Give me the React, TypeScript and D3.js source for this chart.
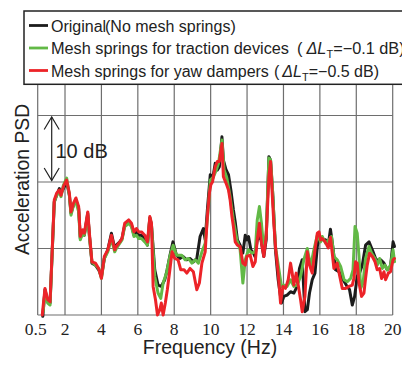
import React from "react";
import * as d3 from "d3";

// Frequency (Hz), relative acceleration PSD (dB)
const original: [number, number][] = [
  [0.78,-0.2],[0.90,3.8],[1.05,2.0],[1.18,1.8],[1.41,17.0],[1.54,18.0],[1.69,19.0],[1.78,18.3],[1.91,19.0],[2.09,20.0],[2.24,18.0],[2.33,15.3],[2.46,16.5],[2.60,17.3],[2.75,16.0],[2.84,11.5],[2.97,12.5],[3.06,12.0],[3.25,15.3],[3.34,12.0],[3.48,7.8],[3.67,7.5],[3.85,6.8],[4.00,5.8],[4.16,8.5],[4.35,9.8],[4.55,12.3],[4.73,10.0],[4.82,10.5],[5.01,11.0],[5.13,11.5],[5.28,13.5],[5.37,13.8],[5.50,14.0],[5.65,13.5],[5.79,12.0],[5.92,12.5],[6.05,12.0],[6.20,12.0],[6.38,11.5],[6.53,10.5],[6.66,14.6],[6.75,13.5],[6.93,6.8],[7.11,4.5],[7.29,4.3],[7.48,5.3],[7.61,6.8],[7.77,9.0],[7.93,11.0],[8.12,9.0],[8.31,8.5],[8.49,8.8],[8.68,8.3],[8.87,8.5],[9.05,8.0],[9.24,8.5],[9.42,11.8],[9.60,13.0],[9.70,11.3],[9.82,15.8],[9.98,21.1],[10.12,20.6],[10.25,22.8],[10.37,21.8],[10.48,22.3],[10.62,26.8],[10.70,23.3],[10.85,21.8],[10.98,21.1],[11.11,18.8],[11.25,15.8],[11.35,14.0],[11.47,11.3],[11.62,10.5],[11.77,9.3],[11.90,12.0],[11.99,11.3],[12.08,11.8],[12.21,9.8],[12.36,9.3],[12.43,8.8],[12.56,11.3],[12.74,11.8],[12.92,8.8],[13.05,11.3],[13.20,23.8],[13.29,23.3],[13.42,17.8],[13.56,9.8],[13.71,5.3],[13.89,1.8],[14.02,2.8],[14.20,3.0],[14.39,3.5],[14.57,3.3],[14.75,4.3],[14.88,7.0],[15.03,8.3],[15.18,0.5],[15.31,0.8],[15.43,3.3],[15.58,5.3],[15.73,6.3],[15.86,10.3],[15.95,11.8],[16.13,11.3],[16.31,11.3],[16.46,10.5],[16.58,12.9],[16.71,10.3],[16.86,6.8],[17.05,6.5],[17.23,5.5],[17.45,4.5],[17.63,3.8],[17.78,1.5],[17.91,2.8],[18.05,5.8],[18.18,6.3],[18.33,7.5],[18.51,10.5],[18.70,11.0],[18.88,9.8],[19.06,8.5],[19.21,8.0],[19.34,8.3],[19.52,7.8],[19.70,6.8],[19.88,7.3],[20.02,11.0],[20.1,10.3]
];

const traction: [number, number][] = [
  [0.80,0.5],[0.90,3.5],[1.05,1.8],[1.18,1.5],[1.41,17.0],[1.54,18.0],[1.69,18.5],[1.78,17.8],[1.91,19.5],[2.09,20.6],[2.24,18.0],[2.33,15.0],[2.46,16.5],[2.60,17.0],[2.75,15.5],[2.84,11.3],[2.97,12.3],[3.06,12.0],[3.25,15.0],[3.34,11.8],[3.48,8.0],[3.67,7.5],[3.85,7.0],[4.00,5.5],[4.16,8.5],[4.35,9.5],[4.55,11.5],[4.73,9.5],[4.82,10.0],[5.01,10.8],[5.13,11.3],[5.28,13.3],[5.37,13.5],[5.50,13.8],[5.65,13.3],[5.79,11.8],[5.92,12.0],[6.05,11.5],[6.20,11.5],[6.38,11.0],[6.53,10.5],[6.66,14.6],[6.75,13.5],[6.93,5.8],[7.11,3.3],[7.26,2.5],[7.39,4.8],[7.57,6.3],[7.76,8.8],[7.94,10.5],[8.12,9.0],[8.41,9.0],[8.60,8.3],[8.78,8.5],[8.97,7.8],[9.15,8.3],[9.33,7.8],[9.52,9.5],[9.70,10.8],[9.88,16.3],[9.98,20.3],[10.16,20.8],[10.31,21.8],[10.43,22.8],[10.62,26.3],[10.74,21.8],[10.89,20.6],[11.07,17.8],[11.25,14.3],[11.44,11.3],[11.62,9.8],[11.77,4.8],[11.90,8.3],[12.08,9.8],[12.26,9.3],[12.45,9.5],[12.56,14.3],[12.68,16.3],[12.79,13.8],[12.92,9.8],[13.05,12.3],[13.20,23.6],[13.29,23.3],[13.38,19.8],[13.56,10.3],[13.75,6.8],[13.89,4.3],[14.02,4.5],[14.20,4.3],[14.39,5.3],[14.57,4.3],[14.75,4.5],[14.94,5.8],[15.12,8.3],[15.31,10.0],[15.49,7.3],[15.67,9.8],[15.86,12.0],[16.04,11.0],[16.13,11.8],[16.31,10.8],[16.50,11.3],[16.64,11.8],[16.77,8.8],[16.95,8.3],[17.14,7.3],[17.33,5.3],[17.51,5.0],[17.69,5.5],[17.82,6.8],[17.93,13.3],[18.05,12.3],[18.15,8.8],[18.24,4.0],[18.37,4.8],[18.51,8.5],[18.70,10.3],[18.84,9.3],[19.03,8.5],[19.15,7.5],[19.28,8.5],[19.43,7.0],[19.57,7.5],[19.70,6.8],[19.88,7.5],[20.02,9.8],[20.1,8.0]
];

const yaw: [number, number][] = [
  [0.75,0.0],[0.90,4.0],[1.05,2.3],[1.18,2.0],[1.41,17.3],[1.54,18.3],[1.69,18.8],[1.78,18.0],[1.91,19.3],[2.09,20.3],[2.24,18.3],[2.33,15.5],[2.46,16.8],[2.60,17.6],[2.75,16.3],[2.84,11.8],[2.97,12.8],[3.06,12.3],[3.25,15.5],[3.34,12.3],[3.48,8.0],[3.67,7.8],[3.85,7.0],[4.00,5.5],[4.16,8.8],[4.35,9.8],[4.55,12.0],[4.73,9.8],[4.82,10.3],[5.01,11.0],[5.13,11.5],[5.28,13.8],[5.37,14.0],[5.50,14.3],[5.65,13.8],[5.79,12.5],[5.92,13.0],[6.05,12.5],[6.20,12.5],[6.38,12.0],[6.53,11.0],[6.66,14.8],[6.75,13.8],[6.84,4.3],[6.97,2.3],[7.08,0.0],[7.21,0.8],[7.29,1.8],[7.39,0.0],[7.51,1.8],[7.62,3.8],[7.76,6.8],[7.88,9.5],[8.03,8.5],[8.21,8.3],[8.36,6.8],[8.54,6.8],[8.69,6.3],[8.87,7.0],[9.05,6.5],[9.24,3.8],[9.38,4.8],[9.52,7.8],[9.70,9.5],[9.82,14.8],[9.93,18.3],[10.01,19.6],[10.10,20.0],[10.25,22.3],[10.37,23.1],[10.48,23.1],[10.62,25.8],[10.70,20.8],[10.85,19.8],[10.98,18.8],[11.07,17.3],[11.17,14.8],[11.25,13.3],[11.35,11.0],[11.47,10.5],[11.62,10.3],[11.77,7.8],[11.90,7.5],[11.99,8.8],[12.17,9.0],[12.32,7.3],[12.45,8.0],[12.56,11.3],[12.68,13.8],[12.79,10.8],[12.92,8.8],[13.05,11.8],[13.20,20.8],[13.29,23.1],[13.38,18.3],[13.47,13.8],[13.56,10.3],[13.71,6.3],[13.84,1.8],[13.97,4.3],[14.11,4.0],[14.26,5.3],[14.39,7.8],[14.48,6.3],[14.57,4.5],[14.70,6.3],[14.81,4.5],[14.94,2.3],[15.03,0.5],[15.18,2.8],[15.31,9.5],[15.43,7.5],[15.58,6.3],[15.73,9.8],[15.86,12.3],[15.95,12.5],[16.04,11.3],[16.13,11.5],[16.29,11.0],[16.46,10.1],[16.58,11.7],[16.68,9.3],[16.77,7.0],[16.95,7.8],[17.08,6.0],[17.23,4.0],[17.41,4.0],[17.60,4.3],[17.78,4.5],[17.87,5.5],[17.96,8.0],[18.05,7.8],[18.15,4.8],[18.29,2.8],[18.42,3.3],[18.51,5.5],[18.60,7.5],[18.73,9.3],[18.88,8.8],[19.03,8.0],[19.15,6.8],[19.28,7.0],[19.39,5.5],[19.52,6.5],[19.61,5.3],[19.76,6.3],[19.88,6.5],[20.02,8.3],[20.1,8.5]
];

const xTicks = [0.5, 2, 4, 6, 8, 10, 12, 14, 16, 18, 20];
const xTickLabels = ["0.5", "2", "4", "6", "8", "10", "12", "14", "16", "18", "20"];
const yGrid = [0, 10, 20, 30, 40];

const seriesNames = ["original", "traction", "yaw"];
const seriesColors = ["#1c1c1c", "#62b946", "#ec2328"];

const W = 402;
const H = 365;

export default function App() {
  const x = d3.scaleLinear().domain([0.5, 20]).range([37.7, 392.7]);
  const y = d3.scaleLinear().domain([0, 40]).range([315, 49]);
  const line = d3
    .line<[number, number]>()
    .x((d) => x(d[0]))
    .y((d) => y(d[1]));
  const data = [original, traction, yaw];
  const sans = "'Liberation Sans', Arial, sans-serif";
  const serif = "'Liberation Serif', 'Times New Roman', serif";
  const grid = "#6e6e6e";
  const legendY = [25.5, 48, 70.5];

  return (
    <svg
      width={W}
      height={H}
      style={{ position: "absolute", left: 0, top: 0, background: "#fff" }}
    >
      {/* grid */}
      {xTicks.map((t) => (
        <line key={"gx" + t} x1={x(t)} x2={x(t)} y1={y(40)} y2={y(0)} stroke={grid} strokeWidth={1.2} />
      ))}
      {yGrid.map((t) => (
        <line key={"gy" + t} x1={x(0.5)} x2={x(20)} y1={y(t)} y2={y(t)} stroke={grid} strokeWidth={1.2} />
      ))}

      {/* curves */}
      {data.map((d, i) => (
        <path
          key={seriesNames[i]}
          d={line(d) || ""}
          fill="none"
          stroke={seriesColors[i]}
          strokeWidth={3}
          strokeLinejoin="round"
          strokeLinecap="round"
        />
      ))}

      {/* 10 dB arrow */}
      <g stroke="#222" strokeWidth={1.2} fill="none">
        <line x1={51.7} x2={51.7} y1={y(30) + 1.5} y2={y(20) - 1.5} />
        <polyline points={`44.2,${y(30) + 14} 51.7,${y(30) + 1.5} 59.2,${y(30) + 14}`} />
        <polyline points={`44.2,${y(20) - 14} 51.7,${y(20) - 1.5} 59.2,${y(20) - 14}`} />
      </g>
      <text x={55.5} y={157.5} fontFamily={sans} fontSize={20} fill="#222">
        10 dB
      </text>

      {/* x tick labels */}
      {xTicks.map((t, i) => (
        <text
          key={"tl" + t}
          x={x(t) + (i === 0 ? -2 : 0)}
          y={334.5}
          textAnchor="middle"
          fontFamily={serif}
          fontSize={17.5}
          fill="#222"
        >
          {xTickLabels[i]}
        </text>
      ))}

      {/* axis titles */}
      <text x={210} y={353.5} textAnchor="middle" fontFamily={sans} fontSize={19.5} fill="#222">
        Frequency (Hz)
      </text>
      <text
        transform="translate(28.5,179.5) rotate(-90)"
        textAnchor="middle"
        fontFamily={sans}
        fontSize={19.3}
        fill="#222"
      >
        Acceleration PSD
      </text>

      {/* legend */}
      <rect x={24} y={11} width={400} height={73.3} fill="#fff" stroke="#222" strokeWidth={1.5} />
      {legendY.map((ly, i) => (
        <line key={"ll" + i} x1={29} x2={48} y1={ly} y2={ly} stroke={seriesColors[i]} strokeWidth={2.8} />
      ))}
      <text x={51} y={legendY[0] + 6} fontFamily={sans} fontSize={16} fill="#222">
        Original
        <tspan x={105}>(No mesh springs)</tspan>
      </text>
      <text x={51} y={legendY[1] + 6} fontFamily={sans} fontSize={16.3} fill="#222">
        Mesh springs for traction devices
        <tspan x={297}>(</tspan>
        <tspan dx={4} fontStyle="italic">ΔL</tspan>
        <tspan fontSize={11} dy={4}>T</tspan>
        <tspan dy={-4}>=−0.1 dB)</tspan>
      </text>
      <text x={51} y={legendY[2] + 6} fontFamily={sans} fontSize={16} fill="#222">
        Mesh springs for yaw dampers
        <tspan x={274}>(</tspan>
        <tspan dx={3} fontStyle="italic">ΔL</tspan>
        <tspan fontSize={11} dy={4}>T</tspan>
        <tspan dy={-4}>=−0.5 dB)</tspan>
      </text>
    </svg>
  );
}
